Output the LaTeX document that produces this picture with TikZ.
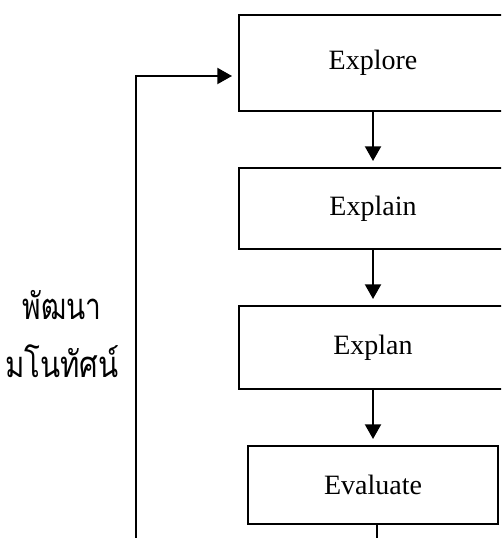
\documentclass[tikz,border=0pt]{standalone}
\usepackage{fontspec}
\setmainfont{Liberation Serif}
\newfontfamily\thaifont[Script=Thai]{Loma}
\usetikzlibrary{positioning,arrows.meta}
\tikzset{
stage/.style={draw,line width=1.5pt,minimum width=201pt,font=\fontsize{21}{25}\selectfont},
flow/.style={line width=1.5pt,-{Triangle[length=11pt,width=12pt]},shorten >=4.5pt}
}

\begin{document}
\begin{tikzpicture}[x=0.75pt,y=-0.75pt,node distance=41.25pt]
\useasboundingbox (0,0) rectangle (501,538);
\clip (0,0) rectangle (501,538);
\node[stage,minimum height=72pt] (explore) at (373,63) {Explore};
\node[stage,minimum height=60.75pt,below=of explore] (explain) {Explain};
\node[stage,minimum height=62.25pt,below=of explain] (explan) {Explan};
\node[stage,minimum height=58.5pt,minimum width=187.5pt,below=of explan] (evaluate) {Evaluate};
\node[font=\thaifont\fontsize{21}{44}\selectfont,align=center] (develop) at (62,334) {\scalebox{1}[1.3]{พัฒนา}\\\scalebox{1.05}[1.3]{มโนทัศน์}};
\coordinate (back) at (136,538);
\coordinate (out) at (377,538);
\draw[flow] (explore) -- (explain);
\draw[flow] (explain) -- (explan);
\draw[flow] (explan) -- (evaluate);
\draw[flow] (back) |- (explore.west |- 0,76);
\draw[line width=1.5pt] (evaluate.south -| out) -- (out);
\end{tikzpicture}
\end{document}
